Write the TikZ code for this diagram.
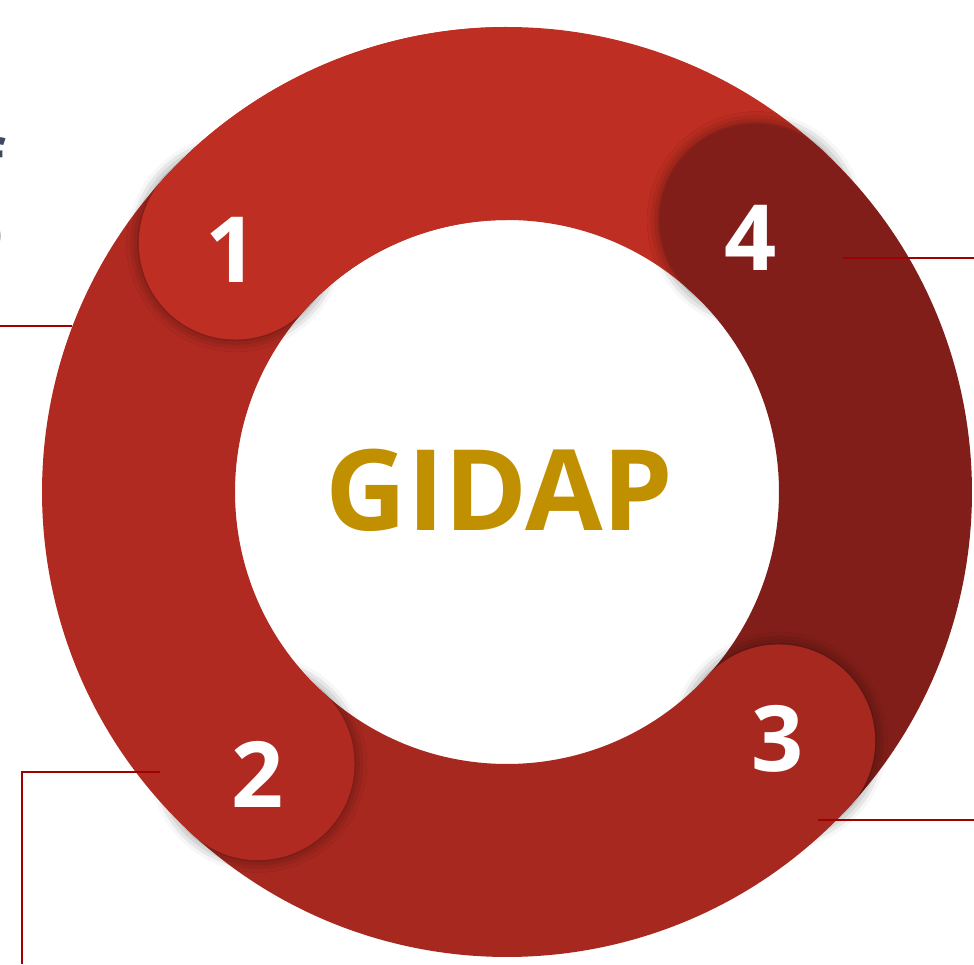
\documentclass[tikz,border=0pt]{standalone}
\usepackage{fontspec}
\setmainfont{Open Sans}
\usetikzlibrary{positioning,shadows.blur}

\definecolor{segone}{HTML}{BE2E22}
\definecolor{segtwo}{HTML}{B02A21}
\definecolor{segthree}{HTML}{A7281F}
\definecolor{segfour}{HTML}{821E19}
\definecolor{leadred}{HTML}{A00000}
\definecolor{gidapgold}{HTML}{C09000}
\definecolor{slate}{HTML}{3E4A60}

\newcommand{\ringpart}[3]{%
  \fill[#1] (#2:465) arc[start angle=#2,end angle=#3,radius=465]
    -- (#3:272) arc[start angle=#3,end angle=#2,radius=272] -- cycle;}

\tikzset{
  capshadow/.style={blur shadow={shadow xshift=0pt,shadow yshift=0pt,
    shadow blur radius=7pt,shadow opacity=50}},
  num/.style={text=white,inner sep=0pt,font=\fontsize{52}{52}\selectfont\bfseries},
  lead/.style={leadred,line width=1.15pt},
  frag/.style={slate,anchor=base east,inner sep=0pt,font=\fontsize{35}{35}\selectfont\bfseries},
}

\begin{document}
\begin{tikzpicture}[x=0.02cm,y=0.02cm]
    \useasboundingbox (0,0) rectangle (974,964);
    \coordinate (O) at (507,472);

    \node[frag] (F1) at (4,779) {f};
    \node[frag] (F2) at (4.5,705) {O};

    \coordinate (A) at (0,638);
    \coordinate (A') at (72,638);
    \draw[lead] (A)--(A');

    \begin{scope}[shift={(O)}]
    \ringpart{segone}{137.5}{47.5}

    \fill[segfour,capshadow] (47.5:368.5) circle[radius=96.5];
    \ringpart{segfour}{47.5}{-42.5}

    \fill[segthree,capshadow] (-42.5:368.5) circle[radius=96.5];
    \ringpart{segthree}{-42.5}{-132.5}

    \fill[segtwo,capshadow] (-132.5:368.5) circle[radius=96.5];
    \ringpart{segtwo}{-132.5}{-222.5}

    \fill[segone,capshadow] (137.5:368.5) circle[radius=96.5];
    \ringpart{segone}{137.5}{90}
    \end{scope}

    \coordinate (B) at (843,706);
    \coordinate (B') at (974,706);
    \coordinate (C) at (818,144);
    \coordinate (C') at (974,144);
    \coordinate (D) at (160,192);
    \coordinate (D') at (22,192);
    \coordinate (D'') at (22,0);

    \draw[lead] (B)--(B');
    \draw[lead] (C)--(C');
    \draw[lead] (D)--(D')--(D'');

    \node[num] (n1) at (232,714) {1};
    \node[num] (n4) at (751,726) {4};
    \node[num] (n3) at (777.5,225.5) {3};
    \node[num] (n2) at (257.5,189.5) {2};

    \node[text=gidapgold,inner sep=0pt,font=\fontsize{64}{64}\selectfont\bfseries] (title) at (499.5,474) {GIDAP};
\end{tikzpicture}
\end{document}
